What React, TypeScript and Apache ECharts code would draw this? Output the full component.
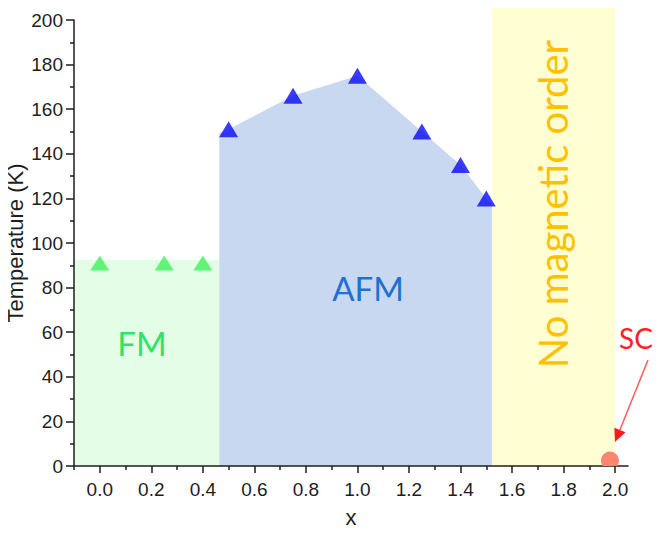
import React, { useEffect, useRef } from "react";
import * as echarts from "echarts";

// ---- data ----
const fmX = [0, 0.25, 0.4];
const fmT = [91, 91, 91];
const afmX = [0.5, 0.75, 1.0, 1.25, 1.4, 1.5];
const afmT = [151, 166, 175, 150, 135, 120];
const scX = [1.98];
const scT = [2.5];

// phase regions
const fmRegionX = [-0.1, 0.464];
const fmRegionT = [92.5, 92.5];
const afmRegionX = [0.464, 0.5, 0.75, 1.0, 1.25, 1.4, 1.5, 1.522];
const afmRegionT = [149.3, 151, 166, 175, 150, 135, 120, 117];
const noOrderRegionX = [1.522, 2.0];
const noOrderRegionT = [208.5, 208.5];

// axes
const xMin = -0.1;
const xMax = 2.05;
const xMajorTicks = [0, 0.2, 0.4, 0.6, 0.8, 1.0, 1.2, 1.4, 1.6, 1.8, 2.0];
const xMinorTicks = [-0.1, 0.1, 0.3, 0.5, 0.7, 0.9, 1.1, 1.3, 1.5, 1.7, 1.9];
const yMin = 0;
const yMax = 200;
const yInterval = 20;

const zip = (xs: number[], ys: number[]) => xs.map((x, i) => [x, ys[i]]);

const AXIS_COLOR = "#1e1e1e";
const FONT = "'Liberation Sans', Arial, sans-serif";
const ANNOT_FONT = "Lato, 'Open Sans', sans-serif";

export default function App() {
  const ref = useRef<HTMLDivElement>(null);
  useEffect(() => {
    if (!ref.current) return;
    const chart = echarts.init(ref.current, undefined, { renderer: "svg" });

    const areaSeries = (data: number[][], color: string, clip = true) => ({
      type: "line",
      data,
      symbol: "none",
      silent: true,
      clip,
      z: 1,
      lineStyle: { width: 0, opacity: 0 },
      areaStyle: { color, opacity: 1, origin: "start" },
    });

    chart.setOption({
      animation: false,
      grid: { left: 74, right: 36, top: 20, bottom: 67, containLabel: false, outerBoundsMode: "none" },
      xAxis: [
        {
          type: "value",
          min: xMin,
          max: xMax,
          z: 2,
          name: "x",
          nameLocation: "middle",
          nameGap: 40,
          nameMoveOverlap: false,
          nameTextStyle: { fontFamily: FONT, fontSize: 22, color: AXIS_COLOR },
          axisLine: { show: true, onZero: false, lineStyle: { color: AXIS_COLOR, width: 1.5 } },
          axisTick: { show: true, length: 7, customValues: xMajorTicks, lineStyle: { color: AXIS_COLOR, width: 1.5 } },
          axisLabel: {
            customValues: xMajorTicks,
            formatter: (v: number) => v.toFixed(1),
            fontFamily: FONT,
            fontSize: 19,
            color: AXIS_COLOR,
            margin: 14,
          },
          splitLine: { show: false },
        },
        {
          type: "value",
          min: xMin,
          max: xMax,
          position: "bottom",
          z: 2,
          axisLine: { show: false },
          axisTick: { show: true, length: 4, customValues: xMinorTicks, lineStyle: { color: AXIS_COLOR, width: 1.5 } },
          axisLabel: { show: false },
          splitLine: { show: false },
        },
      ],
      yAxis: {
        type: "value",
        min: yMin,
        max: yMax,
        interval: yInterval,
        z: 2,
        name: "Temperature (K)",
        nameLocation: "middle",
        nameGap: 48,
        nameMoveOverlap: false,
        nameTextStyle: { fontFamily: FONT, fontSize: 22, color: AXIS_COLOR },
        axisLine: { show: true, onZero: false, lineStyle: { color: AXIS_COLOR, width: 1.5 } },
        axisTick: { show: true, length: 8, lineStyle: { color: AXIS_COLOR, width: 1.5 } },
        minorTick: { show: true, splitNumber: 2, length: 4, lineStyle: { color: AXIS_COLOR, width: 1.5 } },
        axisLabel: { fontFamily: FONT, fontSize: 19, color: AXIS_COLOR, margin: 11 },
        splitLine: { show: false },
      },
      series: [
        areaSeries(zip(fmRegionX, fmRegionT), "#e3fde6"),
        areaSeries(zip(afmRegionX, afmRegionT), "#c9d8f1"),
        areaSeries(zip(noOrderRegionX, noOrderRegionT), "#ffffd3", false),
        {
          type: "scatter",
          data: zip(fmX, fmT),
          symbol: "triangle",
          symbolSize: [19, 15],
          itemStyle: { color: "#3ff25a" },
          z: 3,
          silent: true,
        },
        {
          type: "scatter",
          data: zip(afmX, afmT),
          symbol: "triangle",
          symbolSize: [19, 16],
          itemStyle: { color: "#0a0af5" },
          z: 3,
          silent: true,
        },
        {
          type: "custom",
          data: zip(scX, scT),
          clip: true,
          z: 3,
          silent: true,
          renderItem: (params: any, api: any) => {
            const p = api.coord([api.value(0), api.value(1)]);
            return {
              type: "circle",
              shape: { cx: p[0], cy: p[1], r: 9 },
              style: { fill: "#ff8670" },
            };
          },
        },
      ],
      graphic: [
        {
          type: "text",
          x: 142,
          y: 343,
          z: 20,
          silent: true,
          style: { text: "FM", align: "center", verticalAlign: "middle", font: `33px ${ANNOT_FONT}`, fill: "#2ee36a" },
        },
        {
          type: "text",
          x: 368,
          y: 288,
          z: 20,
          silent: true,
          style: { text: "AFM", align: "center", verticalAlign: "middle", font: `33px ${ANNOT_FONT}`, fill: "#1f70d2" },
        },
        {
          type: "text",
          x: 553,
          y: 204,
          z: 20,
          rotation: Math.PI / 2,
          silent: true,
          style: { text: "No magnetic order", align: "center", verticalAlign: "middle", font: `40px ${ANNOT_FONT}`, fill: "#ffc000" },
        },
        {
          type: "text",
          x: 636,
          y: 338,
          z: 20,
          silent: true,
          style: { text: "SC", align: "center", verticalAlign: "middle", font: `28px ${ANNOT_FONT}`, fill: "#ff2121" },
        },
        {
          type: "line",
          z: 20,
          silent: true,
          shape: { x1: 648, y1: 360, x2: 619.9, y2: 430 },
          style: { stroke: "#ff5a5a", lineWidth: 1.5 },
        },
        {
          type: "polygon",
          z: 20,
          silent: true,
          shape: { points: [[615, 442], [625.5, 432.3], [614.3, 427.8]] },
          style: { fill: "#ff1a1a" },
        },
      ],
    });

    return () => chart.dispose();
  }, []);

  return <div ref={ref} style={{ width: 664, height: 533, margin: -8, background: "#fff" }} />;
}
